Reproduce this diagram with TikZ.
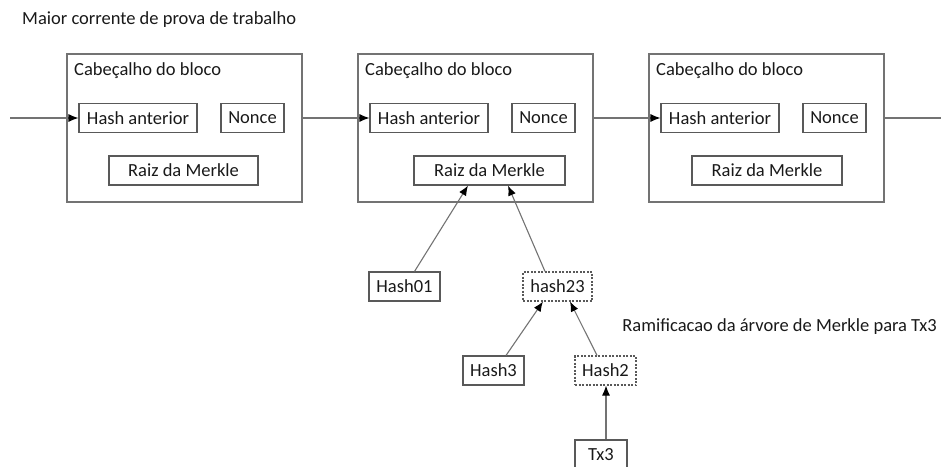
\documentclass[tikz,border=0pt]{standalone}
\usepackage{fontspec}
\setmainfont{Carlito}
\usetikzlibrary{arrows.meta,calc}
\begin{document}
\begin{tikzpicture}[x=1pt,y=-1pt,
  txt/.style={font=\fontsize{18.5}{22}\selectfont, text=black!90},
  blockbox/.style={draw=black!55, line width=1.1pt, minimum width=235pt, minimum height=148pt, inner sep=0pt},
  fieldbox/.style={txt, draw=black!65, line width=1.1pt, minimum height=29pt, inner sep=0pt},
  dashbox/.style={fieldbox, dash pattern=on 2pt off 1.5pt},
  plainline/.style={draw=black!55, line width=1.1pt},
  link/.style={plainline, -{Latex[length=10pt,width=8pt,color=black]}},
]
\useasboundingbox (0,0) rectangle (941,466);

\node[txt, anchor=west, inner sep=0pt] (title) at (22,20) {Maior corrente de prova de trabalho};

% blocks
\node[blockbox] (b1) at (184.5,128) {};
\node[blockbox] (b2) at (475.5,128) {};
\node[blockbox] (b3) at (766.5,128) {};

\node[txt, anchor=west, inner sep=0pt] (c1) at (74,71) {Cabeçalho do bloco};
\node[txt, anchor=west, inner sep=0pt] (c2) at (365,71) {Cabeçalho do bloco};
\node[txt, anchor=west, inner sep=0pt] (c3) at (656,71) {Cabeçalho do bloco};

\node[fieldbox, minimum width=118pt] (ha1) at (138,118) {Hash anterior};
\node[fieldbox, minimum width=118pt] (ha2) at (429,118) {Hash anterior};
\node[fieldbox, minimum width=118pt] (ha3) at (720,118) {Hash anterior};

\node[fieldbox, minimum width=63pt] (n1) at (252.5,118) {Nonce};
\node[fieldbox, minimum width=63pt] (n2) at (543.5,118) {Nonce};
\node[fieldbox, minimum width=63pt] (n3) at (834.5,118) {Nonce};

\node[fieldbox, minimum width=149pt] (r1) at (183.5,170.5) {Raiz da Merkle};
\node[fieldbox, minimum width=151pt] (r2) at (489.5,170.5) {Raiz da Merkle};
\node[fieldbox, minimum width=150pt] (r3) at (767,170.5) {Raiz da Merkle};

% chain
\coordinate (start) at (10,118);
\coordinate (endc) at (941,118);
\draw[link] (start) -- (ha1.west);
\draw[link] (b1.east |- ha2.west) -- (ha2.west);
\draw[link] (b2.east |- ha3.west) -- (ha3.west);
\draw[plainline] (b3.east |- endc) -- (endc);

% merkle branch
\node[fieldbox, minimum width=71pt] (h01) at (404.5,286.5) {Hash01};
\node[dashbox, minimum width=69pt] (h23) at (557.5,286.5) {hash23};
\node[fieldbox, minimum width=61pt] (h3) at (493.5,370.5) {Hash3};
\node[dashbox, minimum width=61pt] (h2) at (605.5,370.5) {Hash2};
\node[fieldbox, minimum width=52pt, minimum height=30pt] (tx) at (601,455) {Tx3};

\draw[link] ($(h01.north)+(10,0)$) -- ($(r2.south)+(-21.5,0)$);
\draw[link] ($(h23.north)+(-12.5,0)$) -- ($(r2.south)+(18.5,0)$);
\draw[link] ($(h3.north)+(12.5,0)$) -- ($(h23.south)+(-14.5,0)$);
\draw[link] ($(h2.north)+(-8.5,0)$) -- ($(h23.south)+(12.5,0)$);
\draw[link] ($(tx.north)+(5,0)$) -- ($(h2.south)+(0.5,0)$);

\node[txt, anchor=east, inner sep=0pt] (branch) at (937,327) {Ramificacao da árvore de Merkle para Tx3};
\end{tikzpicture}
\end{document}
